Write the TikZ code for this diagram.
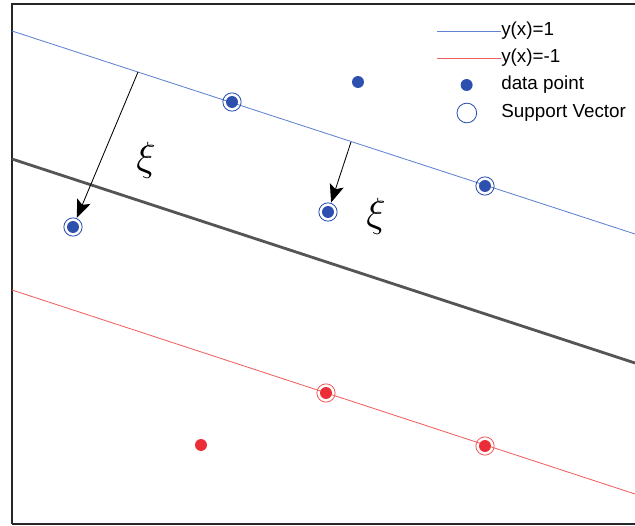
\documentclass[tikz,border=0pt]{standalone}
\usepackage{fontspec}
\setmainfont{Liberation Sans}
\usetikzlibrary{arrows.meta,positioning}

\definecolor{posblue}{RGB}{45,80,175}
\definecolor{lineblue}{RGB}{95,130,210}
\definecolor{negred}{RGB}{235,45,55}
\definecolor{linered}{RGB}{240,95,95}
\definecolor{sepgray}{RGB}{85,85,85}

\begin{document}
\begin{tikzpicture}[
  x=0.025cm, y=-0.025cm,
  dot/.style={circle, fill=#1, inner sep=0pt, minimum size=8.5pt},
  sv/.style={circle, draw=#1, line width=0.6pt, inner sep=0pt, minimum size=13pt},
  arrow/.style={-{Stealth[length=4.5mm, width=3.6mm, inset=1mm]}, line width=0.6pt, shorten >=0.3pt},
  legtext/.style={anchor=west, inner sep=0pt, font=\fontsize{13.4}{16}\selectfont},
  xilabel/.style={scale=1.4, font=\fontsize{20}{24}\selectfont},
]
\useasboundingbox (0,0) rectangle (635,525);

% === Axes frame ===
\draw[line width=1.2pt, black!85] (12,524) -- (12,4) -- (635,4);
\draw[line width=1.2pt, black!85] (12,524) -- (635,524);

% === Margins and separating line ===
\draw[lineblue, line width=0.6pt] (12,31) -- (635,234);
\draw[sepgray, line width=2pt] (12,159) -- (635,363);
\draw[linered, line width=0.6pt] (12,290) -- (635,494);

% === Class +1 ===
\node[dot=posblue] (p1) at (232,102) {};
\node[dot=posblue] (p2) at (485,186) {};
\node[dot=posblue] (p3) at (358,82) {};
\node[dot=posblue] (p4) at (73,227) {};
\node[dot=posblue] (p5) at (328,212) {};
\node[sv=posblue] (s1) at (p1) {};
\node[sv=posblue] (s2) at (p2) {};
\node[sv=posblue] (s4) at (p4) {};
\node[sv=posblue] (s5) at (p5) {};

% === Class -1 ===
\node[dot=negred] (n1) at (326,393) {};
\node[dot=negred] (n2) at (485,446) {};
\node[dot=negred] (n3) at (201,445) {};
\node[sv=linered] (t1) at (n1) {};
\node[sv=linered] (t2) at (n2) {};

% === Slack arrows ===
\coordinate (m1) at (138,72);
\coordinate (m2) at (351,142);
\draw[arrow] (m1) -- (s4);
\draw[arrow] (m2) -- (s5);
\node[xilabel] (xi1) at (146,160) {$\xi$};
\node[xilabel] (xi2) at (376,216) {$\xi$};

% === Legend ===
\node[legtext] (l1) at (501,31) {y(x)=1};
\node[legtext] (l2) at (501,58) {y(x)=-1};
\node[legtext] (l3) at (501,85) {data point};
\node[legtext] (l4) at (501,113) {Support Vector};
\coordinate (a1) at (437,31);
\coordinate (a2) at (437,58);
\draw[lineblue, line width=0.6pt] (a1) -- (l1.west);
\draw[linered, line width=0.6pt] (a2) -- (l2.west);
\node[dot=posblue, left=20pt of l3.west] (k3) {};
\node[sv=posblue, minimum size=14pt, left=17pt of l4.west] (k4) {};
\end{tikzpicture}
\end{document}
